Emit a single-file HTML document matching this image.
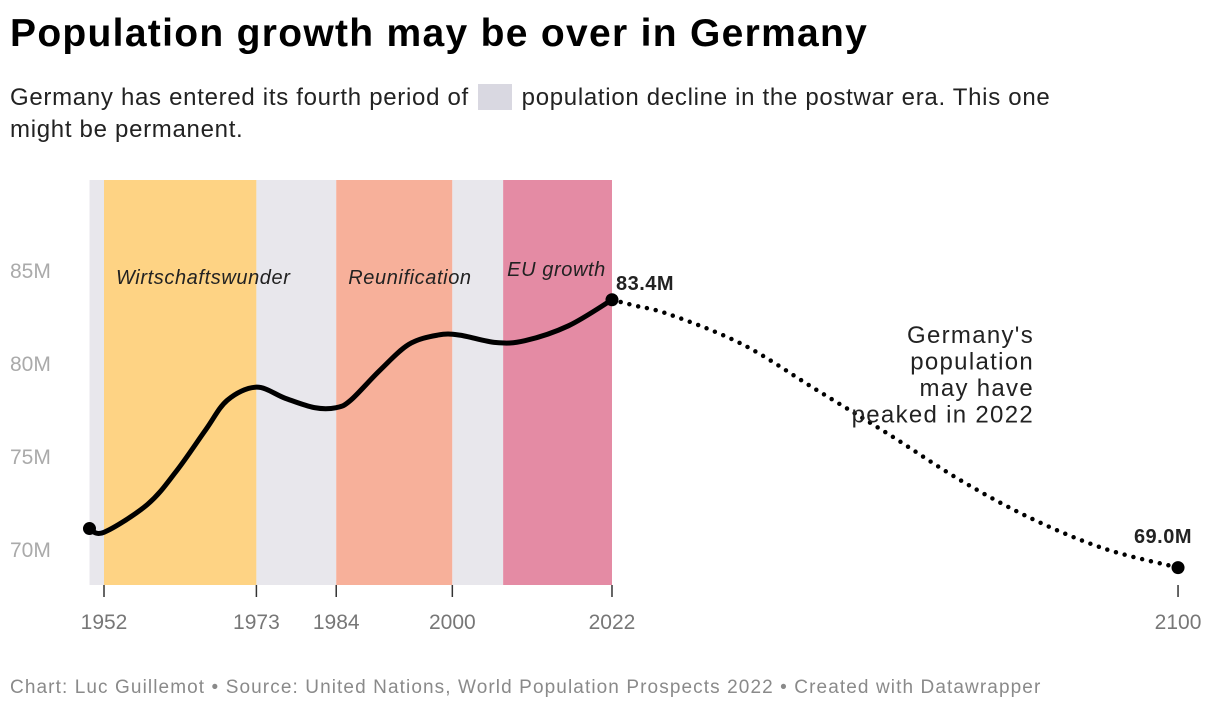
<!DOCTYPE html>
<html><head><meta charset="utf-8">
<style>
body{margin:0;background:#fff;font-family:"Liberation Sans",sans-serif;}
#wrap{position:relative;width:1220px;height:712px;overflow:hidden;}
h1{position:absolute;left:10px;top:12px;margin:0;font-size:39px;font-weight:bold;color:#000;letter-spacing:1.3px}
.sub{position:absolute;left:10px;top:82px;font-size:24px;line-height:32px;color:#222;width:1080px;letter-spacing:0.7px}
.sw{display:inline-block;width:34px;height:26px;background:#d9d8e1;vertical-align:-5px;margin:0 2px}
.foot{position:absolute;left:10px;top:677px;font-size:19px;color:#8a8a8a;letter-spacing:1.1px}
svg{position:absolute;left:0;top:0}
</style></head><body>
<div id="wrap">
<h1>Population growth may be over in Germany</h1>
<div class="sub">Germany has entered its fourth period of <span class="sw"></span> population decline in the postwar era. This one might be permanent.</div>
<svg id="svg" width="1220" height="712"></svg>
<div class="foot">Chart: Luc Guillemot • Source: United Nations, World Population Prospects 2022 • Created with Datawrapper</div>
</div>
<script>
const histYears=[1950,1952,1958,1962,1966,1969,1973,1977,1981,1984,1986,1990,1994,1998,2001,2006,2010,2016,2022];
const histPop=[71.1,70.9,72.4,74.2,76.4,78.0,78.7,78.1,77.6,77.6,78.0,79.6,81.0,81.5,81.5,81.1,81.2,82.0,83.4];
const projYears=[2022,2025,2030,2040,2050,2060,2070,2080,2090,2100];
const projPop=[83.4,83.1,82.6,81.0,78.6,76.2,73.7,71.6,70.0,69.0];
const bandStarts=[1950,1952,1973,1984,2000,2007];
const bandEnds=[1952,1973,1984,2000,2007,2022];
const bandColors=["#e8e7ec","#fed384","#e8e7ec","#f7b09a","#e8e7ec","#e48ba4"];
const bandLabels=["","Wirtschaftswunder","","Reunification","","EU growth"];
const yTicks=[70,75,80,85];
const xTicks=[1952,1973,1984,2000,2022,2100];

const X=y=>104+(y-1952)*7.257;
const Y=v=>549-(v-70)*18.6;
const svg=document.getElementById('svg');
const NS='http://www.w3.org/2000/svg';
function mk(t,a){const e=document.createElementNS(NS,t);for(const k in a)e.setAttribute(k,a[k]);svg.appendChild(e);return e;}

bandStarts.forEach((s,i)=>{
  const r=mk('rect',{x:X(s),y:180,width:X(bandEnds[i])-X(s),height:405,fill:bandColors[i]});
  
  
});
bandStarts.forEach((s,i)=>{
  if(bandLabels[i]){
    const last=i==bandStarts.length-1;
    const t=mk('text',{x:last?X(s)+4:X(s)+12,y:last?276:284,'font-size':20,'font-style':'italic',fill:'#222','letter-spacing':0.6});
    t.textContent=bandLabels[i];
    
    
  }
});

yTicks.forEach(v=>{
  const t=mk('text',{x:10,y:Y(v)+8,'font-size':21,fill:'#aaa'});
  t.textContent=v+'M';
  
  
});
xTicks.forEach(y=>{
  const l=mk('line',{x1:X(y),x2:X(y),y1:585,y2:597,stroke:'#333','stroke-width':1.5});
  
  
  const t=mk('text',{x:X(y),y:629,'font-size':21,fill:'#777','text-anchor':'middle'});
  t.textContent=y;
  
  
});

function path(xs,vs){
  const p=xs.map((x,i)=>[X(x),Y(vs[i])]);
  let d='M'+p[0][0]+','+p[0][1];
  for(let i=0;i<p.length-1;i++){
    const p0=p[i-1]||p[i],p1=p[i],p2=p[i+1],p3=p[i+2]||p2;
    const c1=[p1[0]+(p2[0]-p0[0])/6,p1[1]+(p2[1]-p0[1])/6];
    const c2=[p2[0]-(p3[0]-p1[0])/6,p2[1]-(p3[1]-p1[1])/6];
    d+=` C${c1[0]},${c1[1]} ${c2[0]},${c2[1]} ${p2[0]},${p2[1]}`;
  }
  return d;
}
const h=mk('path',{d:path(histYears,histPop),fill:'none',stroke:'#000','stroke-width':5,'stroke-linejoin':'round'});


const pr=mk('path',{d:path(projYears,projPop),fill:'none',stroke:'#000','stroke-width':4.5,'stroke-dasharray':'0 9','stroke-linecap':'round'});



[[histYears[0],histPop[0]],[2022,histPop[histPop.length-1]],[2100,projPop[projPop.length-1]]].forEach((pt,i)=>{
  const c=mk('circle',{cx:X(pt[0]),cy:Y(pt[1]),r:6.5,fill:'#000'});
  
  
  if(i>0){
    const t=mk('text',{x:i==1?X(pt[0])+4:X(pt[0])+14,y:i==1?290:543,'font-size':20,'font-weight':'bold',fill:'#222','text-anchor':i==1?'start':'end','letter-spacing':0.5});
    t.textContent=pt[1].toFixed(1)+'M';
    
    
  }
});
["Germany's","population","may have","peaked in 2022"].forEach((s,i)=>{
  const t=mk('text',{x:1034,y:343+i*26.5,'font-size':24,fill:'#222','text-anchor':'end','letter-spacing':1.3});
  t.textContent=s;
  
  
});
</script>
</body></html>
